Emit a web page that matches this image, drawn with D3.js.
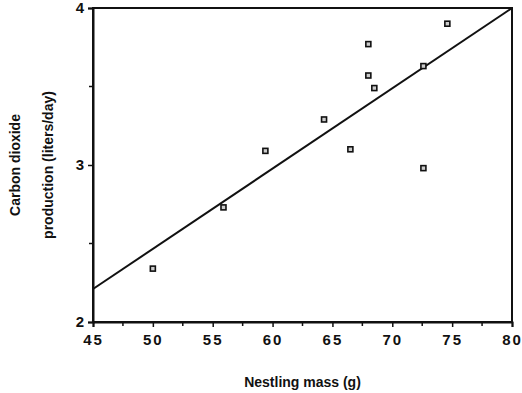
<!DOCTYPE html>
<html>
<head>
<meta charset="utf-8">
<script src="https://cdn.jsdelivr.net/npm/d3@7"></script>
<style>
  body { margin: 0; background: #fff; }
  text { font-family: "Liberation Sans", Arial, sans-serif; font-weight: bold; fill: #111; }
</style>
</head>
<body>
<svg id="chart" width="522" height="393"></svg>
<script>
// nestling mass (g) vs CO2 production (liters/day)
const massValues = [50.0, 55.9, 59.4, 64.3, 66.5, 68.0, 68.0, 68.5, 72.6, 72.6, 74.6];
const co2Values  = [2.34, 2.73, 3.09, 3.29, 3.10, 3.77, 3.57, 3.49, 3.63, 2.98, 3.90];

// regression line end points
const fitX = [45, 80];
const fitY = [2.21, 4.0];

const xTicks = [45, 50, 55, 60, 65, 70, 75, 80];
const yTicks = [2, 3, 4];

const svg = d3.select('#chart');
const margin = {left: 93, right: 10, top: 8, bottom: 71};
const w = 522 - margin.left - margin.right;
const h = 393 - margin.top - margin.bottom;

const x = d3.scaleLinear().domain([45, 80]).range([0, w]);
const y = d3.scaleLinear().domain([2, 4]).range([h, 0]);

const g = svg.append('g').attr('transform', `translate(${margin.left},${margin.top})`);

// frame
g.append('rect')
    .attr('x', 0).attr('y', 0)
    .attr('width', w).attr('height', h)
    .attr('fill', 'none')
    .attr('stroke', '#111')
    .attr('stroke-width', 2);

// minor ticks
let xMinor = d3.range(47.5, 80, 5);
g.selectAll('.xminor').data(xMinor).enter().append('line')
    .attr('x1', d => x(d)).attr('x2', d => x(d))
    .attr('y1', h).attr('y2', h + 4)
    .attr('stroke', '#111').attr('stroke-width', 1.5);
g.selectAll('.yminor').data([2.5, 3.5]).enter().append('line')
    .attr('y1', d => y(d)).attr('y2', d => y(d))
    .attr('x1', 0).attr('x2', -4)
    .attr('stroke', '#111').attr('stroke-width', 1.5);

// axes
let xAxis = g.append('g').attr('transform', `translate(0,${h})`)
    .call(d3.axisBottom(x).tickValues(xTicks).tickSize(5).tickPadding(7).tickFormat(d3.format('d')));
let yAxis = g.append('g')
    .call(d3.axisLeft(y).tickValues(yTicks).tickSize(5).tickPadding(4).tickFormat(d3.format('d')));

[xAxis, yAxis].forEach(a => {
    a.select('.domain').attr('stroke', '#111').attr('stroke-width', 2);
    a.selectAll('.tick line').attr('stroke', '#111').attr('stroke-width', 1.5);
    a.selectAll('.tick text')
        .style('font-family', '"Liberation Sans", Arial, sans-serif')
        .style('font-weight', 'bold')
        .style('font-size', '15px')
        .attr('fill', '#111');
});
xAxis.selectAll('.tick text').style('letter-spacing', '2px');

// fit line
g.append('line')
    .attr('x1', x(fitX[0])).attr('y1', y(fitY[0]))
    .attr('x2', x(fitX[1])).attr('y2', y(fitY[1]))
    .attr('stroke', '#111').attr('stroke-width', 2);

// points
let pts = massValues.map((m, i) => ({m: m, c: co2Values[i]}));
g.selectAll('.pt').data(pts).enter().append('rect')
    .attr('class', 'pt')
    .attr('x', d => x(d.m) - 2.5)
    .attr('y', d => y(d.c) - 2.5)
    .attr('width', 5).attr('height', 5)
    .attr('fill', '#ccc')
    .attr('stroke', '#111')
    .attr('stroke-width', 1.6);

// axis titles
svg.append('text')
    .attr('x', margin.left + w / 2)
    .attr('y', 387)
    .attr('text-anchor', 'middle')
    .style('font-size', '14px')
    .text('Nestling mass (g)');

let yl = svg.append('text')
    .attr('transform', `translate(0,${margin.top + h / 2}) rotate(-90)`)
    .attr('text-anchor', 'middle')
    .style('font-size', '14px');
yl.append('tspan').attr('x', 0).attr('y', 20).text('Carbon dioxide');
yl.append('tspan').attr('x', 0).attr('y', 53).text('production (liters/day)');
</script>
</body>
</html>
